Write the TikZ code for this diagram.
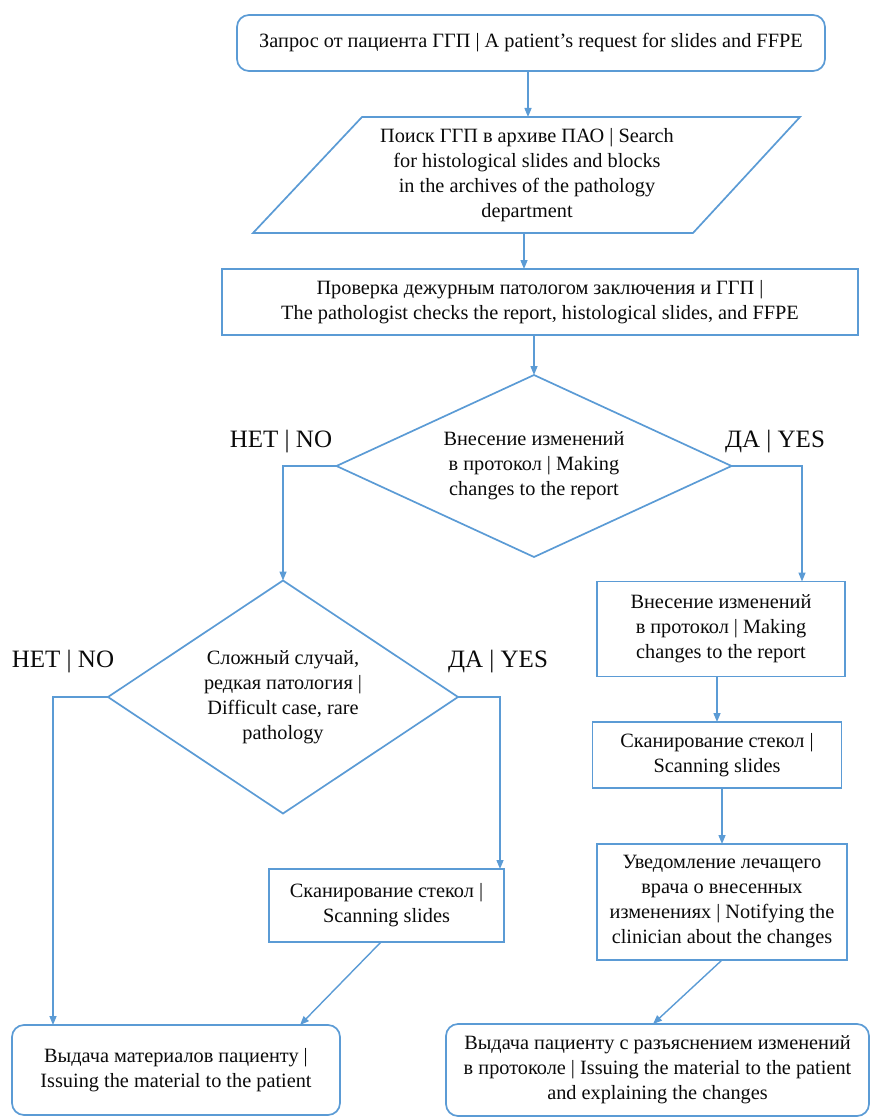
\documentclass[tikz,border=0pt]{standalone}
\usepackage{fontspec}
\setmainfont{Liberation Serif}
\usetikzlibrary{shapes.geometric,arrows.meta,calc}
\definecolor{lineblue}{RGB}{91,155,213}
\definecolor{txt}{RGB}{10,10,10}
\begin{document}
\begin{tikzpicture}[x=1pt,y=-1pt,
  every node/.style={text=txt, font=\fontsize{20.3}{25}\selectfont, align=center, inner sep=0pt, outer sep=0pt},
  box/.style={draw=lineblue, line width=1.7pt, rectangle},
  rbox/.style={box, rounded corners=12pt},
  dia/.style={draw=lineblue, line width=1.7pt, diamond},
  lbl/.style={font=\fontsize{25}{28}\selectfont},
  arr/.style={draw=lineblue, line width=1.4pt, -{Triangle[length=9pt,width=7pt]}}]
\useasboundingbox (0,0) rectangle (871,1118);

% top
\node[rbox, minimum width=588pt, minimum height=56pt] (req) at (531,43)
  {Запрос от пациента ГГП | A patient’s request for slides and FFPE};
% parallelogram
\draw[lineblue, line width=1.7pt, line join=miter] (362,117) -- (800,117) -- (693,233) -- (253,233) -- cycle;
\node[minimum width=300pt, minimum height=116pt] (search) at (527,175)
  {Поиск ГГП в архиве ПАО | Search\\for histological slides and blocks\\in the archives of the pathology\\department};
% check
\node[box, minimum width=636pt, minimum height=66pt] (check) at (540,302)
  {Проверка дежурным патологом заключения и ГГП |\\The pathologist checks the report, histological slides, and FFPE};
% diamond 1
\node[dia, aspect=2.17, minimum width=395pt, minimum height=182pt] (d1) at (534,466)
  {Внесение изменений\\в протокол | Making\\changes to the report};
\node[lbl] (no1) at (281,442) {НЕТ | NO};
\node[lbl] (yes1) at (775,442) {ДА | YES};
% right column
\node[box, minimum width=248pt, minimum height=95pt] (b4) at (721,629)
  {Внесение изменений\\в протокол | Making\\changes to the report};
\node[box, minimum width=249pt, minimum height=66pt] (b5) at (717,755)
  {Сканирование стекол |\\Scanning slides};
\node[box, minimum width=250pt, minimum height=116pt] (b6) at (722,902)
  {Уведомление лечащего\\врача о внесенных\\изменениях | Notifying the\\clinician about the changes};
% diamond 2
\node[dia, aspect=1.5, minimum width=350pt, minimum height=233pt] (d2) at (283,697)
  {Сложный случай,\\редкая патология |\\Difficult case, rare\\pathology};
\node[lbl] (no2) at (63,662) {НЕТ | NO};
\node[lbl] (yes2) at (498,662) {ДА | YES};
\node[box, minimum width=235pt, minimum height=73pt] (b7) at (386.5,905.5)
  {Сканирование стекол |\\Scanning slides};
% bottom
\node[rbox, minimum width=328pt, minimum height=90pt] (b8) at (176,1070)
  {Выдача материалов пациенту |\\Issuing the material to the patient};
\node[rbox, minimum width=423pt, minimum height=92pt] (b9) at (657.5,1070)
  {Выдача пациенту с разъяснением изменений\\в протоколе | Issuing the material to the patient\\and explaining the changes};

% helper coordinates
\coordinate (cx1) at (528,0);
\coordinate (cx2) at (524,0);
\coordinate (cx3) at (534,0);
\coordinate (cr1) at (802,0);
\coordinate (cl2) at (53,0);
\coordinate (cr2) at (500,0);
\coordinate (c7) at (381,0);
\coordinate (c8) at (300,0);
\coordinate (c9) at (653,0);

% connectors
\draw[arr] (req.south -| cx1) -- (search.north -| cx1);
\draw[arr] (search.south -| cx2) -- (check.north -| cx2);
\draw[arr] (check.south -| cx3) -- (d1.north);
\draw[arr] (d1.west) -| (d2.north);
\draw[arr] (d1.east) -| (b4.north -| cr1);
\draw[arr] (b4.south -| b5.north) -- (b5.north);
\draw[arr] (b5.south -| b6.north) -- (b6.north);
\draw[arr] (b6.south) -- (b9.north -| c9);
\draw[arr] (d2.west) -| (b8.north -| cl2);
\draw[arr] (d2.east) -| (b7.north -| cr2);
\draw[arr] (b7.south -| c7) -- (b8.north -| c8);
\end{tikzpicture}
\end{document}
